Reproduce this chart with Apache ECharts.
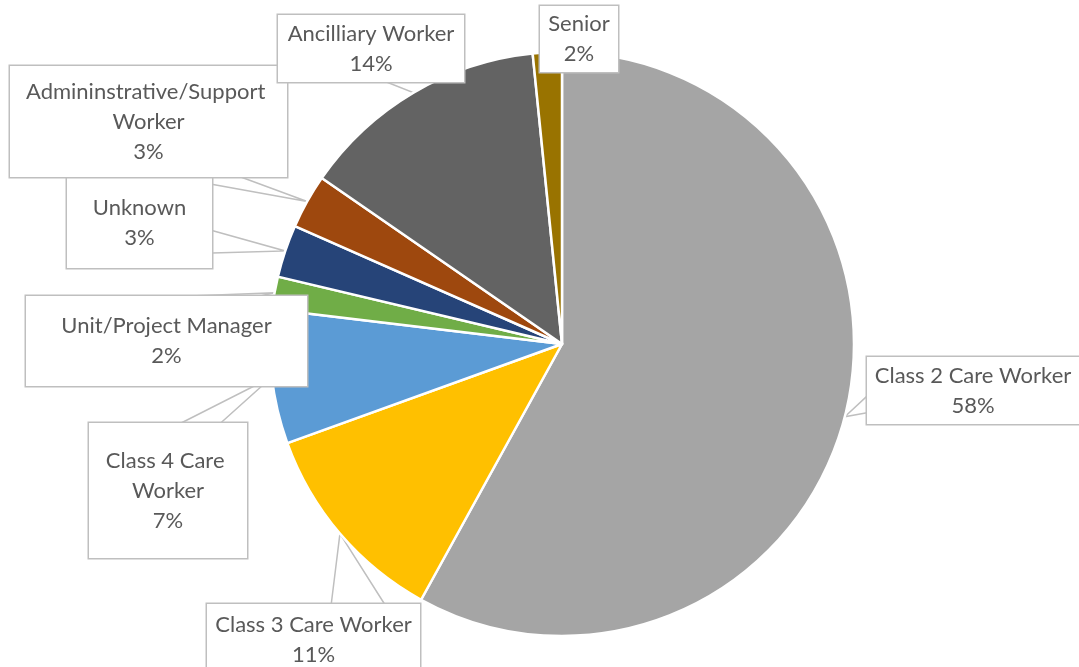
<!DOCTYPE html>
<html>
<head>
<meta charset="UTF-8">
<title>Staff by role</title>
<style>
  html, body { margin: 0; padding: 0; background: #fff; }
  #pie { width: 1079px; height: 667px; }
</style>
</head>
<body>
<div id="pie"></div>
<script src="https://cdn.jsdelivr.net/npm/echarts@6.0.0/dist/echarts.min.js"></script>
<script>
  // slices, clockwise from 12 o'clock
  var roles = ['Class 2 Care Worker', 'Class 3 Care Worker', 'Class 4 Care Worker',
    'Unit/Project Manager', 'Unknown', 'Admininstrative/Support Worker',
    'Ancilliary Worker', 'Senior'];
  var shares = [57.9, 11.45, 7.4, 1.8, 2.9, 3.0, 13.75, 1.6];
  var colors = ['#A5A5A5', '#FFC000', '#5B9BD5', '#70AD47', '#264478', '#9E480E', '#636363', '#997300'];

  // callout boxes: centre x, centre y, width, height, text lines
  var boxes = [
    [973, 390.5, 212, 67, 2],
    [313.5, 640, 213, 72, 2],
    [168, 490.5, 158, 135, 3],
    [166.5, 341, 281, 90, 2],
    [139.5, 223, 145, 90, 2],
    [148.5, 121.5, 277, 111, 3],
    [371, 48.5, 186, 67, 2],
    [579, 39, 78, 66, 2]
  ];
  var LINE_H = 30;

  // pointer of an excel style rectangular callout
  function callout(b, tip) {
    var w = b[2], h = b[3], l = b[0] - w / 2, t = b[1] - h / 2;
    if (tip[0] > l && tip[0] < l + w && tip[1] > t && tip[1] < t + h) return [tip, tip];
    var dx = tip[0] - b[0], dy = tip[1] - b[1];
    if (Math.abs(dy) > Math.abs(dx * h / w)) {
      var ey = dy > 0 ? t + h : t;
      return [[l + w * (dx > 0 ? 7 : 2) / 12, ey], tip, [l + w * (dx > 0 ? 10 : 5) / 12, ey]];
    }
    var ex = dx > 0 ? l + w : l;
    return [[ex, t + h * (dy > 0 ? 7 : 2) / 12], tip, [ex, t + h * (dy > 0 ? 10 : 5) / 12]];
  }

  var data = roles.map(function (name, i) {
    var b = boxes[i];
    var pad = (b[3] - b[4] * LINE_H) / 2;
    return {
      name: name,
      value: shares[i],
      itemStyle: { color: colors[i] },
      label: { width: b[2], padding: [pad, 0, pad, 0] }
    };
  });

  var chart = echarts.init(document.getElementById('pie'));
  chart.setOption({
    animation: false,
    series: [{
      type: 'pie',
      center: [562, 344],
      radius: 292,
      startAngle: 90,
      clockwise: true,
      avoidLabelOverlap: false,
      data: data,
      itemStyle: { borderColor: '#fff', borderWidth: 2.5 },
      emphasis: { disabled: true },
      label: {
        show: true,
        position: 'outside',
        formatter: function (p) { return p.name + '\n' + Math.round(p.percent) + '%'; },
        fontFamily: 'Lato',
        fontSize: 22,
        color: '#595959',
        lineHeight: LINE_H,
        align: 'center',
        overflow: 'break',
        backgroundColor: '#fff',
        borderColor: '#BFBFBF',
        borderWidth: 1.5
      },
      labelLine: {
        show: true,
        lineStyle: { color: '#BFBFBF', width: 1.5 }
      },
      labelLayout: function (p) {
        var b = boxes[p.dataIndex];
        return {
          x: b[0],
          y: b[1],
          align: 'center',
          verticalAlign: 'middle',
          labelLinePoints: callout(b, p.labelLinePoints[0])
        };
      }
    }]
  });
</script>
</body>
</html>
